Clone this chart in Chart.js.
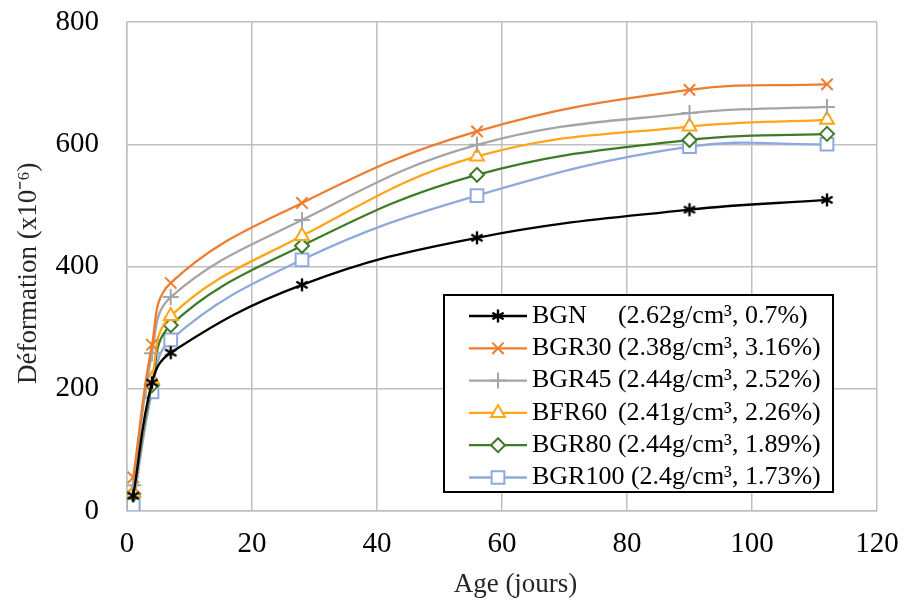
<!DOCTYPE html>
<html lang="fr">
<head>
<meta charset="utf-8">
<title>Déformation en fonction de l'âge</title>
<script src="https://cdn.jsdelivr.net/npm/chart.js@4.4.1/dist/chart.umd.min.js"></script>
<style>
  html, body { margin: 0; padding: 0; background: #ffffff; }
  #wrap { position: relative; width: 907px; height: 603px; }
</style>
</head>
<body>
<div id="wrap"><canvas id="chart" width="907" height="603"></canvas></div>
<script>
// Age of the specimens (days)
const ages = [1, 4, 7, 28, 56, 90, 112];

// Strain values (x10^-6) for each mix
const bgn    = [25, 210, 259, 370, 447, 493, 509];
const bgr30  = [55, 272, 373, 504, 621, 689, 698];
const bgr45  = [42, 258, 350, 476, 599, 651, 661];
const bfr60  = [30, 215, 319, 450, 580, 629, 640];
const bgr80  = [28, 206, 304, 434, 550, 607, 617];
const bgr100 = [10, 195, 280, 411, 516, 596, 600];

// Legend text: mix name and (density, porosity)
const mixNames = ['BGN', 'BGR30', 'BGR45', 'BFR60', 'BGR80', 'BGR100'];
const mixSpecs = [
  '(2.62g/cm³, 0.7%)',
  '(2.38g/cm³, 3.16%)',
  '(2.44g/cm³, 2.52%)',
  '(2.41g/cm³, 2.26%)',
  '(2.44g/cm³, 1.89%)',
  '(2.4g/cm³, 1.73%)'
];

// Axis tick values
const xTicks = [0, 20, 40, 60, 80, 100, 120];
const yTicks = [0, 200, 400, 600, 800];

const SERIF = '"Liberation Serif", "Times New Roman", serif';

function pts(values) {
  return ages.map((a, i) => ({ x: a, y: values[i] }));
}

// Six-armed asterisk marker
function asteriskMarker(size, color) {
  const c = document.createElement('canvas');
  c.width = size; c.height = size;
  const g = c.getContext('2d');
  const m = size / 2, r = size / 2 - 1.5;
  g.strokeStyle = color;
  g.lineWidth = 2.4;
  g.lineCap = 'butt';
  g.beginPath();
  for (let k = 0; k < 3; k++) {
    const a = Math.PI / 2 + k * Math.PI / 3;
    g.moveTo(m + r * Math.cos(a), m + r * Math.sin(a));
    g.lineTo(m - r * Math.cos(a), m - r * Math.sin(a));
  }
  g.stroke();
  return c;
}

const starImg = asteriskMarker(16, '#000000');

const styles = [
  { color: '#000000', point: starImg,    radius: 8, fill: '#000000' },
  { color: '#ED7D31', point: 'crossRot', radius: 8, fill: '#ED7D31' },
  { color: '#A5A5A5', point: 'cross',    radius: 8, fill: '#A5A5A5' },
  { color: '#FFA518', point: 'triangle', radius: 8, fill: '#ffffff' },
  { color: '#3E7A28', point: 'rectRot',  radius: 7, fill: '#ffffff' },
  { color: '#8EA9DB', point: 'rect',     radius: 9, fill: '#ffffff' }
];

const seriesValues = [bgn, bgr30, bgr45, bfr60, bgr80, bgr100];

const datasets = seriesValues.map((vals, i) => ({
  label: mixNames[i] + ' ' + mixSpecs[i],
  data: pts(vals),
  borderColor: styles[i].color,
  backgroundColor: styles[i].fill,
  pointStyle: styles[i].point,
  pointRadius: styles[i].radius,
  pointHoverRadius: styles[i].radius,
  pointBorderColor: styles[i].color,
  pointBackgroundColor: styles[i].fill,
  pointBorderWidth: 2,
  borderWidth: 2.3,
  tension: 0.4,
  fill: false
}));

// Boxed legend drawn inside the plot area
const boxedLegend = {
  id: 'boxedLegend',
  afterDraw(chart) {
    const ctx = chart.ctx;
    const left = 444, top = 295, right = 833, bottom = 492;
    ctx.save();
    ctx.fillStyle = '#ffffff';
    ctx.fillRect(left, top, right - left, bottom - top);
    ctx.lineWidth = 2;
    ctx.strokeStyle = '#000000';
    ctx.strokeRect(left, top, right - left, bottom - top);

    ctx.font = '26px ' + SERIF;
    ctx.textBaseline = 'middle';
    const rowH = 32.3;
    const y0 = 316;
    const lineX1 = 469, lineX2 = 527, textX = 532;
    const specMin = ctx.measureText('BGR30 ').width;
    chart.data.datasets.forEach((ds, i) => {
      const y = y0 + i * rowH;
      ctx.strokeStyle = ds.borderColor;
      ctx.lineWidth = 2.3;
      ctx.beginPath();
      ctx.moveTo(lineX1, y);
      ctx.lineTo(lineX2, y);
      ctx.stroke();
      ctx.fillStyle = ds.pointBackgroundColor;
      ctx.strokeStyle = ds.pointBorderColor;
      ctx.lineWidth = 2;
      Chart.helpers.drawPoint(ctx, {
        pointStyle: ds.pointStyle,
        radius: ds.pointRadius,
        borderWidth: 2,
        rotation: 0
      }, (lineX1 + lineX2) / 2, y);
      ctx.fillStyle = '#000000';
      const name = mixNames[i];
      ctx.fillText(name, textX, y);
      const nameW = ctx.measureText(name + ' ').width;
      ctx.fillText(mixSpecs[i], textX + Math.max(nameW, specMin), y);
    });
    ctx.restore();
  }
};

new Chart(document.getElementById('chart'), {
  type: 'line',
  data: { datasets },
  options: {
    responsive: false,
    devicePixelRatio: 1,
    animation: false,
    events: [],
    layout: { padding: { left: 0, right: 30, top: 22, bottom: 0 } },
    plugins: {
      legend: { display: false },
      tooltip: { enabled: false }
    },
    scales: {
      x: {
        type: 'linear',
        min: 0,
        max: 120,
        afterBuildTicks(scale) { scale.ticks = xTicks.map(v => ({ value: v })); },
        afterFit(scale) {
          scale.height = 92;
          scale.paddingLeft = 0;
          scale.paddingRight = 0;
        },
        grid: { color: '#BFBFBF', lineWidth: 1.5, drawTicks: false },
        border: { color: '#BFBFBF', width: 1.5 },
        ticks: {
          padding: 16,
          color: '#000000',
          font: { family: SERIF, size: 29 }
        },
        title: {
          display: true,
          text: '    Age (jours)',
          color: '#262626',
          padding: { top: 0, bottom: 2 },
          font: { family: SERIF, size: 27 }
        }
      },
      y: {
        type: 'linear',
        min: 0,
        max: 800,
        afterBuildTicks(scale) { scale.ticks = yTicks.map(v => ({ value: v })); },
        afterFit(scale) {
          scale.width = 127;
          scale.paddingTop = 0;
          scale.paddingBottom = 0;
        },
        grid: { color: '#BFBFBF', lineWidth: 1.5, drawTicks: false },
        border: { color: '#BFBFBF', width: 1.5 },
        ticks: {
          padding: 28,
          color: '#000000',
          font: { family: SERIF, size: 29 }
        },
        title: {
          display: true,
          text: 'Déformation (x10⁻⁶)  ',
          color: '#262626',
          padding: { top: 13, bottom: 0 },
          font: { family: SERIF, size: 27 }
        }
      }
    }
  },
  plugins: [boxedLegend]
});
</script>
</body>
</html>
